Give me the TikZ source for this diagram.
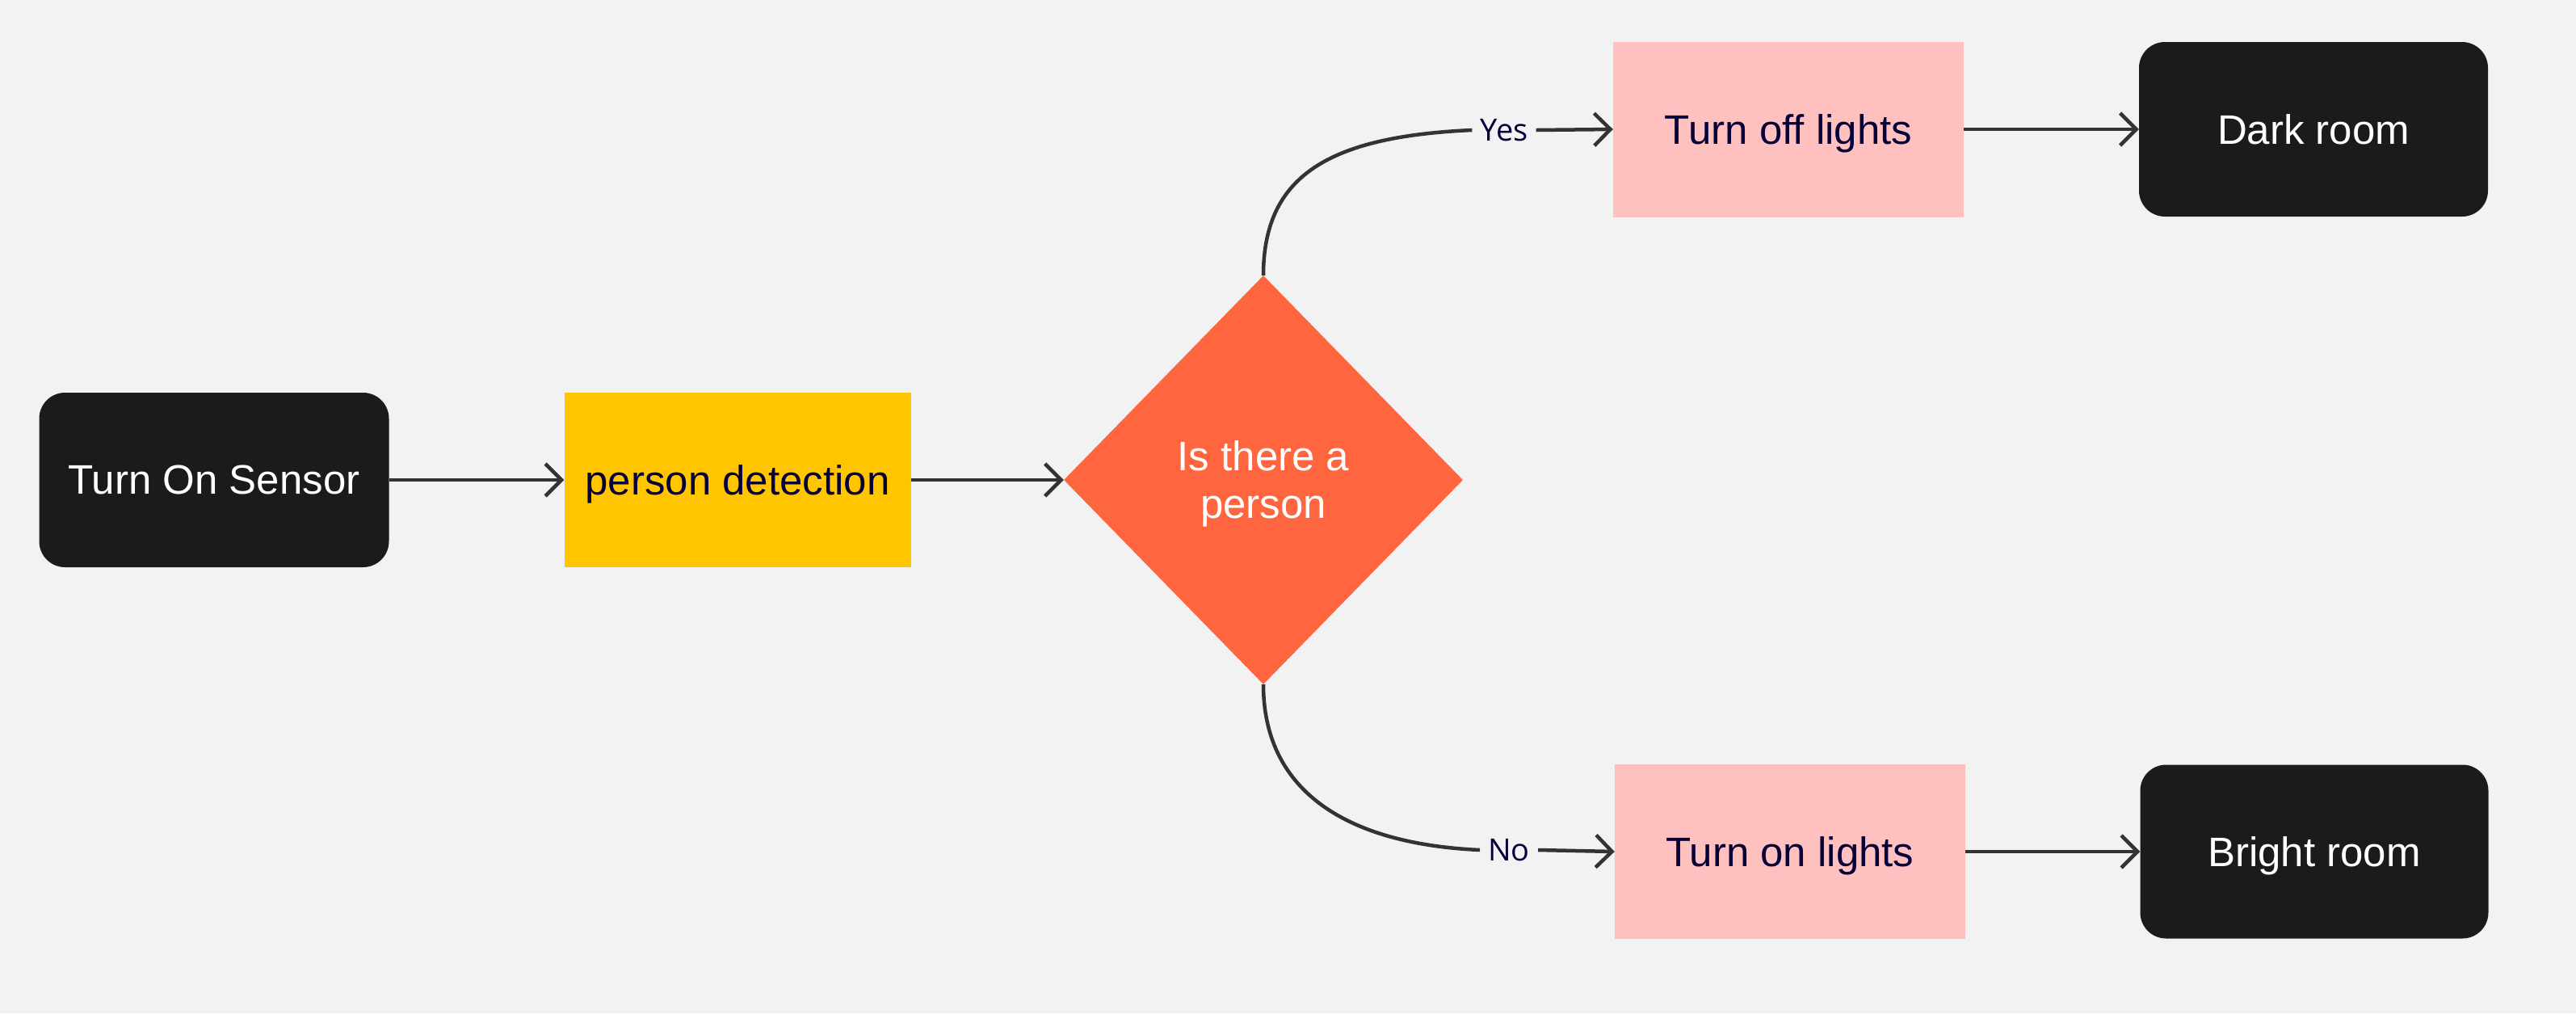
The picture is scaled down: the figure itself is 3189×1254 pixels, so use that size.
\documentclass[tikz,border=0pt]{standalone}
\usepackage{fontspec}
\setmainfont{Liberation Sans}
\newfontfamily\lblfont{Open Sans}
\usetikzlibrary{shapes.geometric,arrows.meta}
\definecolor{bgc}{HTML}{F2F2F2}
\definecolor{darkbox}{HTML}{1B1B1B}
\definecolor{yellowbox}{HTML}{FFC600}
\definecolor{orangedia}{HTML}{FF6640}
\definecolor{pinkbox}{HTML}{FFC0C0}
\definecolor{linec}{HTML}{333333}
\definecolor{navy}{HTML}{050038}
\tikzset{
  boxbase/.style={inner sep=0pt, align=center, text depth=0pt, font=\fontsize{51}{59}\selectfont},
  darkterm/.style={boxbase, fill=darkbox, text=white, rounded corners=32pt},
  yellowstep/.style={boxbase, fill=yellowbox, text=navy},
  pinkstep/.style={boxbase, fill=pinkbox, text=navy},
  decision/.style={boxbase, diamond, fill=orangedia, text=white, minimum width=494pt, minimum height=506pt},
  conn/.style={draw=linec, line width=4.5pt, -{Straight Barb[length=20pt,width=40pt]}},
  connplain/.style={draw=linec, line width=4.5pt},
  lbl/.style={inner xsep=10pt, inner ysep=2pt, text=navy, font=\lblfont\fontsize{38}{44}\selectfont}
}
\begin{document}
\begin{tikzpicture}[x=1pt,y=-1pt]
\fill[bgc] (0,0) rectangle (3189,1254);
\useasboundingbox (0,0) rectangle (3189,1254);

\node[darkterm, minimum width=433pt, minimum height=216pt] (sensor) at (265,594) {Turn On Sensor};
\node[yellowstep, minimum width=429pt, minimum height=216pt] (detect) at (913,594) {person detection};
\node[decision] (dec) at (1564,594) {Is there a\\person};
\node[pinkstep, minimum width=434pt, minimum height=217pt] (off) at (2214,160) {Turn off lights};
\node[darkterm, minimum width=432pt, minimum height=216pt] (dark) at (2864,160) {Dark room};
\node[pinkstep, minimum width=434pt, minimum height=216pt] (on) at (2216,1054) {Turn on lights};
\node[darkterm, minimum width=431pt, minimum height=215pt] (bright) at (2865,1054) {Bright room};

\node[lbl] (yes) at (1862,161) {Yes};
\node[lbl] (no) at (1868,1052) {No};

\draw[conn] (sensor.east) -- (detect.west);
\draw[conn] (detect.east) -- (dec.west);
\draw[connplain] (dec.north) .. controls +(0,-125) and +(-175,8) .. (yes.west);
\draw[conn] (yes.east) -- (off.west);
\draw[connplain] (dec.south) .. controls +(0,125) and +(-175,-8) .. (no.west);
\draw[conn] (no.east) -- (on.west);
\draw[conn] (off.east) -- (dark.west);
\draw[conn] (on.east) -- (bright.west);
\end{tikzpicture}
\end{document}
